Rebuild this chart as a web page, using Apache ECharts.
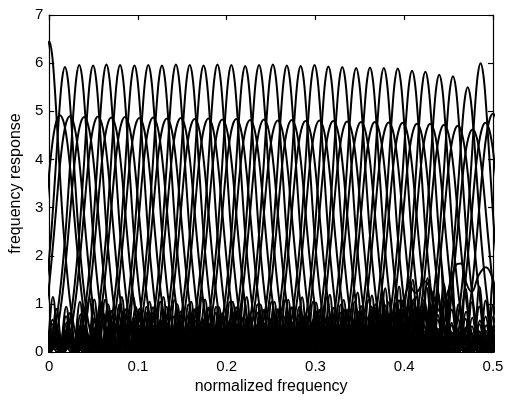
<!DOCTYPE html>
<html><head><meta charset="utf-8">
<script src="https://cdn.jsdelivr.net/npm/echarts@6/dist/echarts.min.js"></script>
<style>html,body{margin:0;padding:0;background:#fff}#c{width:508px;height:400px}</style>
</head><body><div id="c"></div>
<script>
// ---- data ----
const xTickLabels = ['0', '0.1', '0.2', '0.3', '0.4', '0.5'];
const yTickLabels = ['0', '1', '2', '3', '4', '5', '6', '7'];
const channelSpacing = 0.0156; // distance between neighbouring peaks

// tall family (peaks near 6)
const centersA = [0.0, 0.0177, 0.0338, 0.0494, 0.0644, 0.0798, 0.0960, 0.1116, 0.1270, 0.1427, 0.1583,
  0.1739, 0.1895, 0.2052, 0.2208, 0.2364, 0.2520, 0.2677, 0.2833, 0.2989, 0.3145, 0.3302, 0.3458,
  0.3614, 0.3770, 0.3927, 0.4088, 0.4238, 0.4394, 0.4549, 0.4715, 0.4860];
const peaksA = [6.45, 5.92, 5.96, 5.95, 5.97, 5.96, 5.95, 5.96, 5.95, 5.97, 5.96,
  5.95, 5.97, 5.96, 5.94, 5.96, 5.97, 5.95, 5.94, 5.96, 5.93, 5.92, 5.90,
  5.91, 5.90, 5.89, 5.84, 5.82, 5.76, 5.73, 5.50, 6.00];
const sideScaleA = [1.0, 1.05, 0.95, 1.1, 0.9, 1.0, 1.05, 0.95, 1.1, 0.9, 1.0,
  1.1, 0.95, 1.0, 1.05, 0.9, 1.0, 1.1, 0.95, 1.0, 1.05, 1.1, 1.0,
  1.15, 1.05, 1.2, 1.15, 1.3, 1.35, 1.5, 1.6, 1.8];

// lower family (peaks near 4.85)
const centersB = [0.0120, 0.0232, 0.0393, 0.0549, 0.0699, 0.0853, 0.1015, 0.1171, 0.1325, 0.1482, 0.1638,
  0.1794, 0.1950, 0.2107, 0.2263, 0.2419, 0.2575, 0.2732, 0.2888, 0.3044, 0.3200, 0.3357, 0.3513,
  0.3669, 0.3825, 0.3982, 0.4143, 0.4293, 0.4449, 0.4604, 0.4770, 0.4915, 0.5000];
const peaksB = [4.92, 4.90, 4.88, 4.89, 4.87, 4.88, 4.86, 4.87, 4.85, 4.86, 4.84,
  4.85, 4.83, 4.84, 4.82, 4.83, 4.81, 4.82, 4.80, 4.81, 4.80, 4.79, 4.78,
  4.78, 4.77, 4.76, 4.74, 4.74, 4.72, 4.70, 4.62, 4.76, 4.95];
const sideScaleB = [1.2, 1.0, 0.9, 1.05, 0.95, 1.1, 0.9, 1.0, 1.05, 0.95, 1.1,
  0.9, 1.0, 1.05, 1.1, 0.95, 1.0, 0.9, 1.05, 1.0, 1.1, 0.95, 1.05,
  1.1, 1.0, 1.15, 1.2, 1.25, 1.3, 1.4, 1.6, 1.7, 1.9];

// main-lobe shapes (offset in channel spacings, value relative to the peak)
const lobeOffsetsA = [0, 0.2, 0.4, 0.6, 0.8, 1.0, 1.3, 1.6, 2.0, 2.4];
const lobeShapeA   = [1, 0.96, 0.85, 0.70, 0.55, 0.41, 0.25, 0.13, 0.04, 0];
const lobeOffsetsB = [0, 0.25, 0.5, 0.75, 1.0, 1.3, 1.6, 2.0, 2.5];
const lobeShapeB   = [1, 0.975, 0.9, 0.77, 0.6, 0.4, 0.23, 0.08, 0];

// successive side-lobe heights, relative to the peak
const sideLevels = [0.175, 0.125, 0.098, 0.082, 0.070, 0.062, 0.056, 0.052, 0.049, 0.046, 0.044,
  0.042, 0.041, 0.040, 0.039, 0.038, 0.037, 0.037, 0.036, 0.036, 0.035, 0.035, 0.034, 0.034,
  0.034, 0.033, 0.033, 0.033, 0.032, 0.032, 0.032, 0.031, 0.031, 0.031];

// extra ripple curve near the high-frequency edge
const edgeX = [0.392, 0.400, 0.406, 0.413, 0.423, 0.432, 0.440, 0.450, 0.458, 0.464, 0.470, 0.476, 0.484, 0.492, 0.500];
const edgeY = [0.55, 1.10, 1.37, 1.23, 1.47, 1.20, 0.85, 1.30, 1.80, 1.84, 1.43, 1.25, 1.60, 1.76, 1.50];

// ---- build series ----
function buildCurve(c, h, offs, shape, scale) {
  const prof = offs.map((o, i) => [o, shape[i]]);
  const mainEnd = offs[offs.length - 1];
  sideLevels.forEach((lv, n) => {
    prof.push([mainEnd + n + 0.5, lv * scale]);
    prof.push([mainEnd + n + 1, 0]);
  });
  const pts = [];
  for (let i = prof.length - 1; i > 0; i--) pts.push([c - prof[i][0] * channelSpacing, prof[i][1] * h]);
  for (let i = 0; i < prof.length; i++) pts.push([c + prof[i][0] * channelSpacing, prof[i][1] * h]);
  return pts.filter(p => p[0] >= -0.06 && p[0] <= 0.56);
}

const lineStyle = { color: '#000', width: 2.0 };
const series = [];
centersA.forEach((c, i) => series.push({
  type: 'line', data: buildCurve(c, peaksA[i], lobeOffsetsA, lobeShapeA, sideScaleA[i]),
  smooth: 0.35, symbol: 'none', lineStyle, silent: true, clip: true
}));
centersB.forEach((c, i) => series.push({
  type: 'line', data: buildCurve(c, peaksB[i], lobeOffsetsB, lobeShapeB, sideScaleB[i]),
  smooth: 0.35, symbol: 'none', lineStyle, silent: true, clip: true
}));
series.push({
  type: 'line', data: edgeX.map((x, i) => [x, edgeY[i]]),
  smooth: 0.4, symbol: 'none', lineStyle, silent: true, clip: true
});

const font = 'Liberation Sans, Arial, Helvetica, sans-serif';
const axisLine = { show: true, onZero: false, lineStyle: { color: '#000', width: 1.2 } };
const axisTick = { show: true, inside: true, length: 5, lineStyle: { color: '#000', width: 1.2 } };

const chart = echarts.init(document.getElementById('c'), null, { renderer: 'canvas' });
chart.setOption({
  animation: false,
  backgroundColor: '#fff',
  grid: { left: 41, right: 15, top: 15, bottom: 35, containLabel: false },
  xAxis: [{
    type: 'value', min: 0, max: 0.5, interval: 0.1, position: 'bottom',
    axisLine, axisTick, splitLine: { show: false },
    axisLabel: { color: '#000', fontSize: 15, fontFamily: font, margin: 7,
      formatter: v => xTickLabels[Math.round(v * 10)] },
    name: 'normalized frequency', nameLocation: 'middle', nameGap: 21,
    nameTextStyle: { color: '#000', fontSize: 16, fontFamily: font }
  }, {
    type: 'value', min: 0, max: 0.5, interval: 0.1, position: 'top',
    axisLine, axisTick, splitLine: { show: false }, axisLabel: { show: false }
  }],
  yAxis: [{
    type: 'value', min: 0, max: 7, interval: 1, position: 'left',
    axisLine, axisTick, splitLine: { show: false },
    axisLabel: { color: '#000', fontSize: 15, fontFamily: font, margin: 6,
      formatter: v => yTickLabels[Math.round(v)] },
    name: 'frequency response', nameLocation: 'middle', nameGap: 24,
    nameTextStyle: { color: '#000', fontSize: 16, fontFamily: font }
  }, {
    type: 'value', min: 0, max: 7, interval: 1, position: 'right',
    axisLine, axisTick, splitLine: { show: false }, axisLabel: { show: false }
  }],
  series
});
</script></body></html>
